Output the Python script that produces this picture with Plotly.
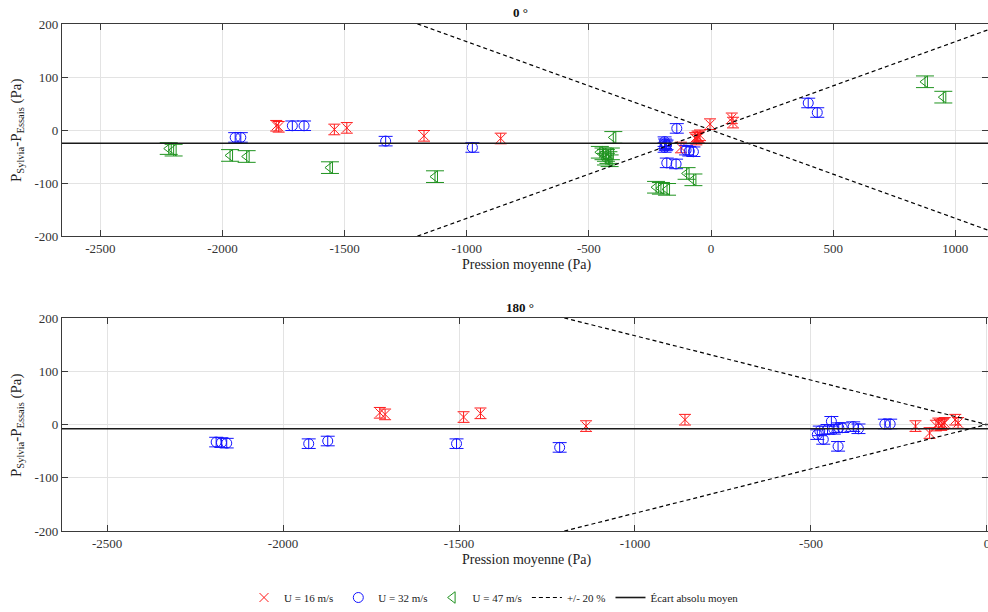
import plotly.graph_objects as go

# ---- 0° incidence ----
top_16_x = [-1780, -1770, -1542, -1491, -1175, -861, -123, -65, -55, -45, -60, -50, -4, 85, 90]
top_16_y = [8, 6, 1, 4, -11, -16, -33, -15, -12, -10, -18, -14, 11, 22, 14]
top_16_e = [10, 10, 10, 10, 10, 10, 10, 10, 10, 10, 10, 10, 10, 10, 10]

top_32_x = [-1948, -1925, -1714, -1666, -1332, -977, -190, -188, -185, -182, -190,
            -140, -181, -143, -102, -89, -72, 398, 435]
top_32_y = [-14, -14, 8, 8, -21, -33, -22, -26, -30, -28, -33,
            3, -62, -64, -38, -40, -41, 51, 33]
top_32_e = [9, 9, 9, 9, 9, 9, 9, 9, 9, 9, 9, 9, 9, 9, 9, 9, 9, 9, 9]

top_47_x = [-2220, -2200, -1969, -1901, -1560, -1130, -400, -455, -440, -430, -420,
            -415, -430, -410, -100, -72, -225, -205, -180, 876, 951]
top_47_y = [-35, -38, -48, -50, -71, -88, -14, -42, -45, -48, -52,
            -58, -55, -45, -82, -94, -108, -110, -112, 91, 62]
top_47_e = [11, 11, 11, 11, 11, 11, 11, 11, 11, 11, 11,
            11, 11, 11, 11, 11, 11, 11, 11, 11, 11]

top_mean = -25

# ---- 180° incidence ----
bot_16_x = [-1725, -1710, -1487, -1439, -1139, -858, -203, -163, -145, -138, -130, -125, -120, -90, -82]
bot_16_y = [22, 19, 14, 21, -3, 9, -3, -16, -2, 2, -1, 1, 3, 9, 3]
bot_16_e = [10, 10, 10, 10, 10, 10, 10, 10, 10, 10, 10, 10, 10, 10, 10]

bot_32_x = [-2190, -2175, -2160, -1927, -1873, -1507, -1214, -442, -482, -475, -465, -453,
            -435, -421, -411, -423, -380, -365, -290, -275]
bot_32_y = [-33, -34, -35, -36, -31, -36, -43, 6, -19, -12, -28, -9,
            -9, -6, -6, -41, -4, -8, 1, 1]
bot_32_e = [9, 9, 9, 9, 9, 9, 9, 9, 9, 9, 9, 9, 9, 9, 9, 9, 9, 9, 9, 9]

bot_mean = -8

# Axis ticks (labels use a plain hyphen for negatives)
top_xticks = [-2500, -2000, -1500, -1000, -500, 0, 500, 1000]
bot_xticks = [-2500, -2000, -1500, -1000, -500, 0]
yticks = [-200, -100, 0, 100, 200]


def tick_labels(vals):
    return [str(v) for v in vals]


# +/- 20 % envelope slope and axis extents
env_slope = 1 / 6
top_xrange = [-2657, 1134]
bot_xrange = [-2628, 3]

RED = "#ff1a1a"
BLUE = "#1414ff"
GREEN = "#1f931f"
AXC = "#3a3a3a"
FONT = "Liberation Serif, Times New Roman, serif"

fig = go.Figure()


def add_series(x, y, e, color, symbol, name, xa, ya, show, size, capw):
    fig.add_trace(go.Scatter(
        x=x, y=y, mode="markers", name=name, legendgroup=name, showlegend=show,
        xaxis=xa, yaxis=ya,
        marker=dict(symbol=symbol, size=size, color=color, line=dict(color=color, width=1)),
        error_y=dict(type="data", array=e, visible=True, color=color, thickness=1, width=capw),
    ))


add_series(top_16_x, top_16_y, top_16_e, RED, "x-thin-open", "U = 16 m/s", "x", "y", True, 9, 6)
add_series(top_32_x, top_32_y, top_32_e, BLUE, "circle-open", "U = 32 m/s", "x", "y", True, 10, 7)
add_series(top_47_x, top_47_y, top_47_e, GREEN, "triangle-left-open", "U = 47 m/s", "x", "y", True, 10, 9)
add_series(bot_16_x, bot_16_y, bot_16_e, RED, "x-thin-open", "U = 16 m/s", "x2", "y2", False, 9, 6)
add_series(bot_32_x, bot_32_y, bot_32_e, BLUE, "circle-open", "U = 32 m/s", "x2", "y2", False, 10, 7)


def add_envelope(xr, xa, ya, show):
    for sgn, sl in ((1, show), (-1, False)):
        fig.add_trace(go.Scatter(
            x=xr, y=[sgn * env_slope * v for v in xr], mode="lines", name="+/- 20 %",
            legendgroup="env", showlegend=sl, xaxis=xa, yaxis=ya,
            line=dict(color="black", width=1.2, dash="4px,3px"),
        ))


def add_mean(xr, m, xa, ya, show):
    fig.add_trace(go.Scatter(
        x=xr, y=[m, m], mode="lines", name="Écart absolu moyen", legendgroup="mean",
        showlegend=show, xaxis=xa, yaxis=ya, line=dict(color="#1a1a1a", width=1.6),
    ))


add_envelope(top_xrange, "x", "y", True)
add_mean(top_xrange, top_mean, "x", "y", True)
add_envelope(bot_xrange, "x2", "y2", False)
add_mean(bot_xrange, bot_mean, "x2", "y2", False)

W, H = 988, 612
x_dom = [62 / W, 1.0]
top_dom = [1 - 236 / H, 1 - 24 / H]
bot_dom = [1 - 531 / H, 1 - 318 / H]

axis_common = dict(
    showline=True, linecolor=AXC, linewidth=1.2, mirror="ticks",
    ticks="inside", ticklen=6, tickcolor=AXC, tickwidth=1,
    showgrid=True, gridcolor="#e3e3e3", gridwidth=1, zeroline=False,
    tickfont=dict(family=FONT, size=13, color="#333333"), automargin=False,
    ticklabeloverflow="allow",
)

fig.update_layout(
    width=W, height=H, margin=dict(l=0, r=0, t=0, b=0, autoexpand=False),
    paper_bgcolor="white", plot_bgcolor="white",
    font=dict(family=FONT, color="#222222"),
    xaxis=dict(domain=x_dom, range=top_xrange, anchor="y", tickmode="array",
               tickvals=top_xticks, ticktext=tick_labels(top_xticks), **axis_common),
    yaxis=dict(domain=top_dom, range=[-200, 200], anchor="x", tickmode="array",
               tickvals=yticks, ticktext=tick_labels(yticks), **axis_common),
    xaxis2=dict(domain=x_dom, range=bot_xrange, anchor="y2", tickmode="array",
                tickvals=bot_xticks, ticktext=tick_labels(bot_xticks), **axis_common),
    yaxis2=dict(domain=bot_dom, range=[-200, 200], anchor="x2", tickmode="array",
                tickvals=yticks, ticktext=tick_labels(yticks), **axis_common),
    legend=dict(orientation="h", x=0.5, xanchor="center", y=0, yanchor="bottom",
                font=dict(family=FONT, size=11, color="#222222"), bgcolor="rgba(0,0,0,0)",
                itemwidth=30, tracegroupgap=0),
    showlegend=True,
)

ann = []
centered = dict(xref="paper", yref="paper", showarrow=False, xanchor="center", yanchor="middle")
for label, ypx in (("<b>0 °</b>", 12), ("<b>180 °</b>", 307)):
    ann.append(dict(text=label, x=520 / W, y=1 - ypx / H,
                    font=dict(family=FONT, size=13, color="#111111"), **centered))
for ypx in (265, 560):
    ann.append(dict(text="Pression moyenne (Pa)", x=526 / W, y=1 - ypx / H,
                    font=dict(family=FONT, size=14, color="#222222"), **centered))
for ypx in (130, 425):
    ann.append(dict(text="P<sub>Sylvia</sub>-P<sub>Essais</sub> (Pa)", x=17 / W, y=1 - ypx / H,
                    textangle=-90, font=dict(family=FONT, size=15, color="#222222"), **centered))
fig.update_layout(annotations=ann)

fig.write_html("out.html")
